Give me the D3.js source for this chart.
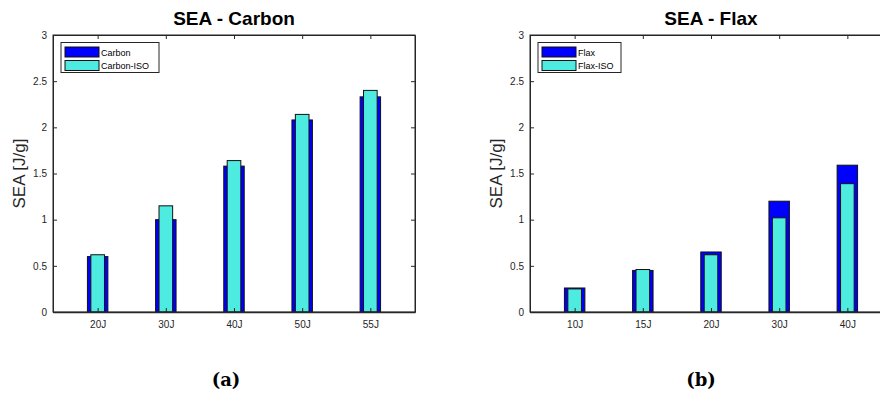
<!DOCTYPE html>
<html><head><meta charset="utf-8">
<script src="https://cdn.jsdelivr.net/npm/d3@7"></script>
<style>body{margin:0;background:#fff;overflow:hidden}</style>
</head><body>
<svg id="c" width="880" height="395"></svg>
<script>
const carbonCats = ["20J","30J","40J","50J","55J"];
const carbonVals = [0.60, 1.00, 1.58, 2.08, 2.33];
const carbonIsoVals = [0.62, 1.15, 1.64, 2.14, 2.40];
const flaxCats = ["10J","15J","20J","30J","40J"];
const flaxVals = [0.26, 0.45, 0.65, 1.20, 1.59];
const flaxIsoVals = [0.25, 0.46, 0.62, 1.02, 1.39];
const yTicks = [0, 0.5, 1, 1.5, 2, 2.5, 3];

const svg = d3.select("#c");
const FONT = "'Liberation Sans', Arial, Helvetica, sans-serif";
const AX = "#262626";
const BLUE = "#0000ff", CYAN = "#4debe0";

function panel(cfg){
  const {x0, x1, y0, y1, cats, a, b, title, names, sub, subX, legX} = cfg;
  const g = svg.append("g");
  const x = d3.scaleLinear().domain([0.345, cats.length + 0.655]).range([x0, x1]);
  const y = d3.scaleLinear().domain([0, 3]).range([y1, y0]);
  const step = x(2) - x(1);
  const idx = cats.map((c,i)=>i+1);

  g.selectAll(".b1").data(a).join("rect")
    .attr("x",(d,i)=>x(i+1)-step*0.15).attr("width",step*0.3)
    .attr("y",d=>y(d)).attr("height",d=>y(0)-y(d))
    .attr("fill",BLUE).attr("stroke","#111").attr("stroke-width",1);
  g.selectAll(".b2").data(b).join("rect")
    .attr("x",(d,i)=>x(i+1)-step*0.1).attr("width",step*0.2)
    .attr("y",d=>y(d)).attr("height",d=>y(0)-y(d))
    .attr("fill",CYAN).attr("stroke","#111").attr("stroke-width",1);

  g.append("rect").attr("x",x0).attr("y",y0).attr("width",x1-x0).attr("height",y1-y0)
    .attr("fill","none").attr("stroke",AX).attr("stroke-width",1);

  const yl = g.append("g").attr("transform",`translate(${x0},0)`)
    .call(d3.axisLeft(y).tickValues(yTicks).tickFormat(d3.format("")).tickSizeInner(-4).tickSizeOuter(0).tickPadding(6));
  const yr = g.append("g").attr("transform",`translate(${x1},0)`)
    .call(d3.axisRight(y).tickValues(yTicks).tickFormat("").tickSizeInner(-4).tickSizeOuter(0));
  const xb = g.append("g").attr("transform",`translate(0,${y1})`)
    .call(d3.axisBottom(x).tickValues(idx).tickFormat((d,i)=>cats[i]).tickSizeInner(-4).tickSizeOuter(0).tickPadding(9));
  const xt = g.append("g").attr("transform",`translate(0,${y0})`)
    .call(d3.axisTop(x).tickValues(idx).tickFormat("").tickSizeInner(-4).tickSizeOuter(0));
  [yl,yr,xb,xt].forEach(s=>{
    s.select(".domain").attr("stroke",AX);
    s.selectAll(".tick line").attr("stroke",AX);
    s.selectAll("text").attr("fill",AX).style("font-family",FONT).style("font-size","10px");
  });
  xb.select(".domain").attr("stroke-width",1.5);

  g.append("text").attr("x",(x0+x1)/2).attr("y",y0-10).attr("text-anchor","middle")
    .style("font-family",FONT).style("font-weight","bold").style("font-size","19px").attr("fill","#000").text(title);
  g.append("text").attr("transform",`translate(${x0-28},${(y0+y1)/2}) rotate(-90)`)
    .attr("text-anchor","middle").style("font-family",FONT).style("font-size","17px").attr("fill",AX).text("SEA [J/g]");

  const lg = g.append("g");
  lg.append("rect").attr("x",legX).attr("y",42.5).attr("width",cfg.legW).attr("height",30)
    .attr("fill","#fff").attr("stroke",AX).attr("stroke-width",1);
  [[BLUE,names[0]],[CYAN,names[1]]].forEach((e,i)=>{
    lg.append("rect").attr("x",legX+4).attr("y",47+i*13.5).attr("width",34).attr("height",10)
      .attr("fill",e[0]).attr("stroke","#111").attr("stroke-width",1);
    lg.append("text").attr("x",legX+40).attr("y",55.5+i*13.5)
      .style("font-family",FONT).style("font-size","9px").attr("fill","#000").text(e[1]);
  });

  svg.append("text").attr("x",subX).attr("y",386).attr("text-anchor","middle")
    .style("font-family","'DejaVu Serif', 'Liberation Serif', serif").style("font-weight","bold").style("font-size","18px")
    .attr("fill","#000").text(sub);
}

panel({x0:53, x1:415, y0:35, y1:312, cats:carbonCats, a:carbonVals, b:carbonIsoVals,
  title:"SEA - Carbon", names:["Carbon","Carbon-ISO"], sub:"(a)", subX:226, legX:61, legW:98});
panel({x0:530, x1:892, y0:35, y1:312, cats:flaxCats, a:flaxVals, b:flaxIsoVals,
  title:"SEA - Flax", names:["Flax","Flax-ISO"], sub:"(b)", subX:701, legX:538, legW:83});
</script>
</body></html>
